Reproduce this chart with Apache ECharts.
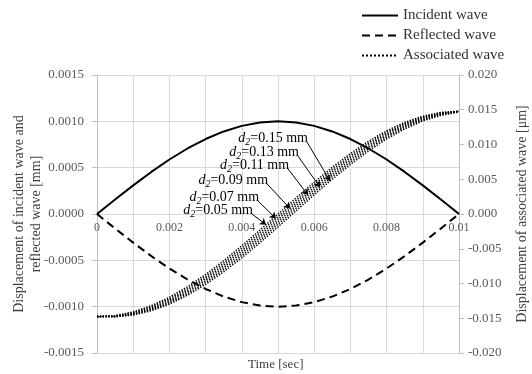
<!DOCTYPE html>
<html>
<head>
<meta charset="utf-8">
<script src="https://cdn.jsdelivr.net/npm/echarts@6/dist/echarts.min.js"></script>
<style>
    html, body { margin: 0; padding: 0; background: #fff; }
    .chart { width: 532px; height: 374px; }
</style>
</head>
<body>
<div class="chart"></div>
<script>
// time points (sec)
var times = [0, 0.0005, 0.001, 0.0015, 0.002, 0.0025, 0.003, 0.0035, 0.004, 0.0045, 0.005,
    0.0055, 0.006, 0.0065, 0.007, 0.0075, 0.008, 0.0085, 0.009, 0.0095, 0.01];
// incident / reflected wave (mm), left axis
var incident = [0, 0.000156, 0.000309, 0.000454, 0.000588, 0.000707, 0.000809, 0.000891, 0.000951, 0.000988, 0.001,
    0.000988, 0.000951, 0.000891, 0.000809, 0.000707, 0.000588, 0.000454, 0.000309, 0.000156, 0];
var reflected = [0, -0.000156, -0.000309, -0.000454, -0.000588, -0.000707, -0.000809, -0.000891, -0.000951, -0.000988, -0.001,
    -0.000988, -0.000951, -0.000891, -0.000809, -0.000707, -0.000588, -0.000454, -0.000309, -0.000156, 0];
// associated wave (um), right axis, one curve per d2
var assocD005 = [-0.01480, -0.01462, -0.01408, -0.01319, -0.01197, -0.01047, -0.00870, -0.00672, -0.00457, -0.00232, 0,
    0.00232, 0.00457, 0.00672, 0.00870, 0.01047, 0.01197, 0.01319, 0.01408, 0.01462, 0.01480];
var assocD007 = [-0.01479, -0.01467, -0.01419, -0.01335, -0.01219, -0.01073, -0.00900, -0.00705, -0.00493, -0.00268, -0.00037,
    0.00195, 0.00422, 0.00639, 0.00839, 0.01020, 0.01175, 0.01301, 0.01396, 0.01455, 0.01479];
var assocD009 = [-0.01478, -0.01472, -0.01429, -0.01351, -0.01240, -0.01098, -0.00929, -0.00737, -0.00528, -0.00305, -0.00074,
    0.00158, 0.00386, 0.00605, 0.00809, 0.00993, 0.01152, 0.01283, 0.01383, 0.01448, 0.01478];
var assocD011 = [-0.01476, -0.01475, -0.01438, -0.01366, -0.01259, -0.01122, -0.00958, -0.00769, -0.00562, -0.00341, -0.00111,
    0.00121, 0.00350, 0.00571, 0.00777, 0.00965, 0.01128, 0.01264, 0.01369, 0.01440, 0.01476];
var assocD013 = [-0.01473, -0.01478, -0.01446, -0.01379, -0.01279, -0.01146, -0.00986, -0.00801, -0.00596, -0.00377, -0.00148,
    0.00084, 0.00314, 0.00536, 0.00745, 0.00936, 0.01104, 0.01245, 0.01355, 0.01431, 0.01473];
var assocD015 = [-0.01468, -0.01479, -0.01454, -0.01392, -0.01297, -0.01169, -0.01013, -0.00832, -0.00630, -0.00413, -0.00186,
    0.00046, 0.00277, 0.00501, 0.00713, 0.00907, 0.01079, 0.01224, 0.01339, 0.01421, 0.01468];
var assocCurves = [assocD005, assocD007, assocD009, assocD011, assocD013, assocD015];

// annotations
var d2Labels = ['0.05', '0.07', '0.09', '0.11', '0.13', '0.15'];
var labelAnchors = [[0.00428, 0], [0.00445, 0.00187], [0.00470, 0.00432], [0.00528, 0.00647], [0.00555, 0.00835], [0.00580, 0.01036]];
var arrowTipTimes = [0.00467, 0.00494, 0.00533, 0.00583, 0.00616, 0.00644];

// tick labels
var xTickLabels = ['0', '0.002', '0.004', '0.006', '0.008', '0.01'];
var legendNames = ['Incident wave', 'Reflected wave', 'Associated wave'];

(function () {
    var myChart = echarts.init(document.querySelector(".chart"));
    var font = 'Liberation Serif';

    function pairs(vals) {
        return times.map(function (t, i) { return [t, vals[i]]; });
    }
    // value on a curve at time t (linear between points)
    function valueAt(vals, t) {
        for (var i = 0; i < times.length - 1; i++) {
            if (t >= times[i] && t <= times[i + 1]) {
                var f = (t - times[i]) / (times[i + 1] - times[i]);
                return vals[i] + f * (vals[i + 1] - vals[i]);
            }
        }
        return vals[vals.length - 1];
    }

    var series = [];
    assocCurves.forEach(function (vals, i) {
        var tipT = arrowTipTimes[i];
        series.push({
            name: 'Associated wave',
            type: 'line',
            yAxisIndex: 1,
            data: pairs(vals),
            symbol: 'none',
            itemStyle: { color: '#000' },
            lineStyle: { color: '#000', width: 1.4, type: 'dotted' },
            z: 2,
            markLine: {
                silent: true,
                symbol: ['none', 'arrow'],
                symbolSize: 6,
                label: { show: false },
                lineStyle: { color: '#000', width: 1, type: 'solid' },
                data: [[{ coord: labelAnchors[i] }, { coord: [tipT, valueAt(vals, tipT)] }]]
            },
            markPoint: {
                silent: true,
                symbol: 'circle',
                symbolSize: 0,
                label: {
                    show: true,
                    position: 'left',
                    distance: 0,
                    offset: [1, -4],
                    formatter: '{d|d}{s|2}{n|=' + d2Labels[i] + ' mm}',
                    rich: {
                        d: { fontFamily: font, fontSize: 14, fontStyle: 'italic', color: '#000', lineHeight: 18 },
                        s: { fontFamily: font, fontSize: 10, fontStyle: 'italic', color: '#000', lineHeight: 10, padding: [8, 0, 0, 0] },
                        n: { fontFamily: font, fontSize: 14, color: '#000', lineHeight: 18 }
                    }
                },
                data: [{ coord: labelAnchors[i] }]
            }
        });
    });
    series.push({
        name: 'Incident wave',
        type: 'line',
        yAxisIndex: 0,
        data: pairs(incident),
        symbol: 'none',
        itemStyle: { color: '#000' },
        lineStyle: { color: '#000', width: 2 },
        z: 3
    });
    series.push({
        name: 'Reflected wave',
        type: 'line',
        yAxisIndex: 0,
        data: pairs(reflected),
        symbol: 'none',
        itemStyle: { color: '#000' },
        lineStyle: { color: '#000', width: 2, type: [8, 5] },
        z: 3
    });

    var axisGray = '#bfbfbf';
    var gridGray = '#d9d9d9';
    var labelColor = '#595959';
    var gridTop = 75, gridBottom = 21, chartH = 374;

    var option = {
        animation: false,
        textStyle: { fontFamily: font },
        legend: {
            data: legendNames,
            orient: 'vertical',
            left: 356,
            top: 3,
            itemWidth: 36,
            itemHeight: 14,
            itemGap: 5,
            itemStyle: { opacity: 0 },
            textStyle: { fontFamily: font, fontSize: 15, color: '#333' }
        },
        grid: {
            left: 97,
            right: 73,
            top: gridTop,
            bottom: gridBottom,
            outerBoundsMode: 'none',
            containLabel: false
        },
        // x axis title sits below the plot, the axis itself crosses at zero
        graphic: [{
            type: 'text',
            left: 248,
            bottom: 3,
            style: { text: 'Time [sec]', fontFamily: font, fontSize: 13, fill: '#404040' }
        }],
        xAxis: {
            type: 'value',
            min: 0,
            max: 0.01,
            interval: 0.001,
            position: 'bottom',
            // left axis is symmetric, so zero sits half way up the plot
            offset: -(chartH - gridTop - gridBottom) / 2,
            axisLine: { onZero: false, lineStyle: { color: gridGray } },
            axisTick: { show: false },
            axisLabel: {
                color: labelColor,
                fontFamily: font,
                fontSize: 12,
                margin: 8,
                formatter: function (v, idx) {
                    return idx % 2 === 0 ? xTickLabels[idx / 2] : '';
                }
            },
            splitLine: { show: true, lineStyle: { color: gridGray } }
        },
        yAxis: [
            {
                type: 'value',
                min: -0.0015,
                max: 0.0015,
                interval: 0.0005,
                axisLine: { show: true, lineStyle: { color: axisGray } },
                axisTick: { show: true, length: 5, lineStyle: { color: axisGray } },
                axisLabel: {
                    color: labelColor,
                    fontFamily: font,
                    fontSize: 13,
                    margin: 13,
                    formatter: function (v) { return v.toFixed(4); }
                },
                splitLine: { show: true, lineStyle: { color: gridGray } },
                name: 'Displacement of incident wave and\nreflected wave [mm]',
                nameLocation: 'middle',
                nameGap: 52,
                nameMoveOverlap: false,
                nameTextStyle: { fontFamily: font, fontSize: 14, color: '#404040', lineHeight: 17 }
            },
            {
                type: 'value',
                position: 'right',
                min: -0.02,
                max: 0.02,
                interval: 0.005,
                axisLine: { show: true, lineStyle: { color: axisGray } },
                axisTick: { show: true, length: 5, lineStyle: { color: axisGray } },
                axisLabel: {
                    color: labelColor,
                    fontFamily: font,
                    fontSize: 13,
                    margin: 9,
                    formatter: function (v) { return v.toFixed(3); }
                },
                splitLine: { show: false },
                name: 'Displacement of associated wave [\u03bcm]',
                nameLocation: 'middle',
                nameGap: 56,
                nameMoveOverlap: false,
                nameTextStyle: { fontFamily: font, fontSize: 14, color: '#404040' }
            }
        ],
        series: series
    };
    myChart.setOption(option);
    window.addEventListener("resize", function () {
        myChart.resize();
    })
})();
</script>
</body>
</html>
